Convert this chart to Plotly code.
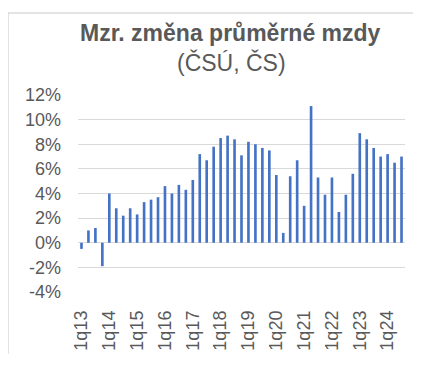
import plotly.graph_objects as go

quarters = [f"{q}q{y:02d}" for y in range(13, 25) for q in range(1, 5)][:47]
wage_change = [-0.5, 1.0, 1.2, -1.9, 4.0, 2.8, 2.2, 2.8, 2.3, 3.3, 3.5, 3.7,
               4.6, 4.0, 4.7, 4.3, 5.1, 7.2, 6.7, 7.8, 8.5, 8.7, 8.4, 7.1,
               8.2, 8.0, 7.7, 7.5, 5.5, 0.8, 5.4, 6.7, 3.0, 11.1, 5.3, 3.9,
               5.3, 2.5, 3.9, 5.6, 8.9, 8.4, 7.7, 7.0, 7.2, 6.5, 7.0]
tick_labels = [q for q in quarters if q.startswith("1q")]
y_ticks = list(range(-4, 13, 2))
y_tick_text = [f"{v}%" for v in y_ticks]

TEXT = "#595959"
FONT = "Liberation Sans"

fig = go.Figure(go.Bar(x=quarters, y=wage_change, marker_color="#4472C4",
                       marker_line_width=0))

OFF = 8  # page body margin
W, H = 428 - OFF, 366 - OFF
L, R, T, B = 78 - OFF, 23, 95 - OFF, 74 - OFF + OFF - 8
B = H - (292 - OFF)
pw, ph = W - L - R, H - T - B

def px(x):
    return (x - OFF - L) / pw

def py(y):
    return (H - B - (y - OFF)) / ph

fig.update_layout(
    width=W, height=H,
    margin=dict(l=L, r=R, t=T, b=B, pad=0),
    paper_bgcolor="white", plot_bgcolor="white",
    bargap=0.62,
    showlegend=False,
    font=dict(family=FONT, color=TEXT, size=18),
    xaxis=dict(type="category", tickmode="array", tickvals=tick_labels,
               ticktext=tick_labels, tickangle=-90, showgrid=False,
               showline=False, ticks="", ticklabelstandoff=14,
               tickfont=dict(size=18, color=TEXT, family=FONT)),
    yaxis=dict(range=[-4, 12], tickmode="array", tickvals=y_ticks,
               ticktext=y_tick_text, showgrid=True, gridcolor="#D9D9D9",
               gridwidth=1, zeroline=False, showline=False, ticks="",
               ticklabelstandoff=16,
               tickfont=dict(size=18, color=TEXT, family=FONT)),
    annotations=[
        dict(text="<b>Mzr. změna průměrné mzdy</b>", xref="paper", yref="paper",
             x=px(230), y=py(33), xanchor="center", yanchor="middle",
             showarrow=False, font=dict(size=23, color=TEXT, family=FONT)),
        dict(text="(ČSÚ, ČS)", xref="paper", yref="paper",
             x=px(231), y=py(63), xanchor="center", yanchor="middle",
             showarrow=False, font=dict(size=23, color=TEXT, family=FONT)),
    ],
    shapes=[
        dict(type="line", xref="paper", yref="paper", x0=px(8), x1=px(413),
             y0=py(13), y1=py(13), line=dict(color="#C8C8C8", width=1)),
        dict(type="line", xref="paper", yref="paper", x0=px(8), x1=px(8),
             y0=py(13), y1=py(354), line=dict(color="#C8C8C8", width=1)),
    ],
)

fig.write_html("out.html")
